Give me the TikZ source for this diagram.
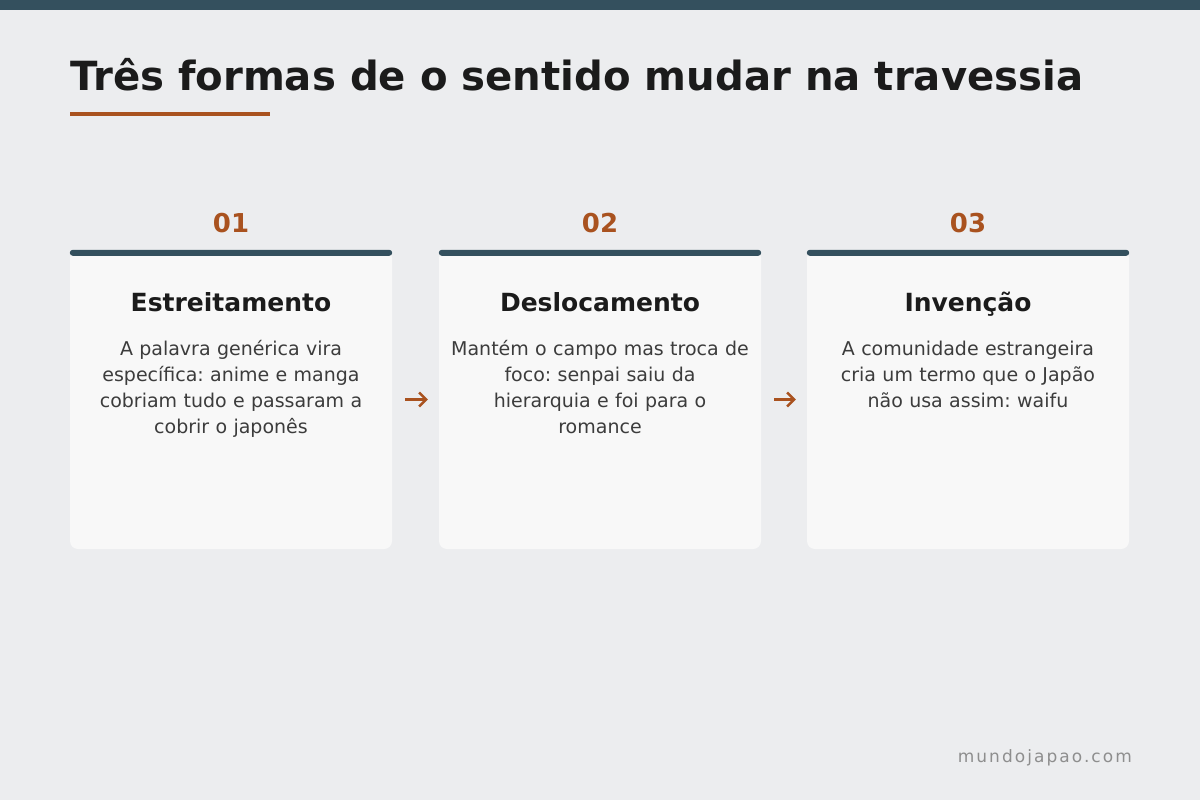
\documentclass[tikz,border=0pt]{standalone}
\usepackage{fontspec}
\setmainfont{DejaVu Sans}
\newfontfamily\sitefont[LetterSpace=12]{DejaVu Sans}
\usetikzlibrary{arrows.meta}
\definecolor{slate}{HTML}{34505E}
\definecolor{rust}{HTML}{A9521F}
\definecolor{paper}{HTML}{ECEDEF}
\definecolor{cardbg}{HTML}{F8F8F8}
\definecolor{ink}{HTML}{1B1B1B}
\definecolor{bodyink}{HTML}{3C3C3C}
\definecolor{sitegrey}{HTML}{8E8E8E}
\frenchspacing

\begin{document}
\begin{tikzpicture}[x=1pt,y=-1pt,
    card/.style={fill=cardbg,rounded corners=8pt,minimum width=322pt,minimum height=299pt,inner sep=0pt},
    num/.style={text=rust,font=\bfseries\fontsize{26}{30}\selectfont,anchor=base},
    cardtitle/.style={text=ink,font=\bfseries\fontsize{25}{30}\selectfont,anchor=base},
    cardtext/.style={text=bodyink,font=\fontsize{19}{26}\selectfont,text width=310pt,align=center,anchor=base,inner sep=0pt},
    flow/.style={draw=rust,line width=2.5pt,-{Straight Barb[length=7pt,width=14pt]},shorten <=13pt,shorten >=11pt}]
    \useasboundingbox[fill=paper] (0,0) rectangle (1200,800);
    \fill[slate] (0,0) rectangle (1200,10);

    \node (title) at (70,90) [anchor=base west,inner sep=0pt,text=ink,font=\bfseries\fontsize{40.2}{48}\selectfont] {Três formas de o sentido mudar na travessia};
    \fill[rust] (70,112) rectangle (270,116);

    % the three cards
    \node (card1) at (231,399.5) [card] {};
    \node (card2) at (600,399.5) [card] {};
    \node (card3) at (968,399.5) [card] {};
    \fill[slate,rounded corners=3pt] (card1.north west) rectangle ([yshift=-6pt]card1.north east);
    \fill[slate,rounded corners=3pt] (card2.north west) rectangle ([yshift=-6pt]card2.north east);
    \fill[slate,rounded corners=3pt] (card3.north west) rectangle ([yshift=-6pt]card3.north east);

    \node (num1) at (231,232) [num] {01};
    \node (num2) at (600,232) [num] {02};
    \node (num3) at (968,232) [num] {03};

    \node (head1) at (231,311) [cardtitle] {Estreitamento};
    \node (head2) at (600,311) [cardtitle] {Deslocamento};
    \node (head3) at (968,311) [cardtitle] {Invenção};

    \node (text1) at (231,355) [cardtext] {A palavra genérica vira\\específica: anime e manga\\cobriam tudo e passaram a\\cobrir o japonês};
    \node (text2) at (600,355) [cardtext] {Mantém o campo mas troca de\\foco: senpai saiu da\\hierarquia e foi para o\\romance};
    \node (text3) at (968,355) [cardtext] {A comunidade estrangeira\\cria um termo que o Japão\\não usa assim: waifu};

    \draw[flow] (card1) -- (card2);
    \draw[flow] (card2) -- (card3);

    \node (site) at (1132,762) [anchor=base east,inner sep=0pt,text=sitegrey,font=\sitefont\fontsize{17}{20}\selectfont] {mundojapao.com};
\end{tikzpicture}
\end{document}
